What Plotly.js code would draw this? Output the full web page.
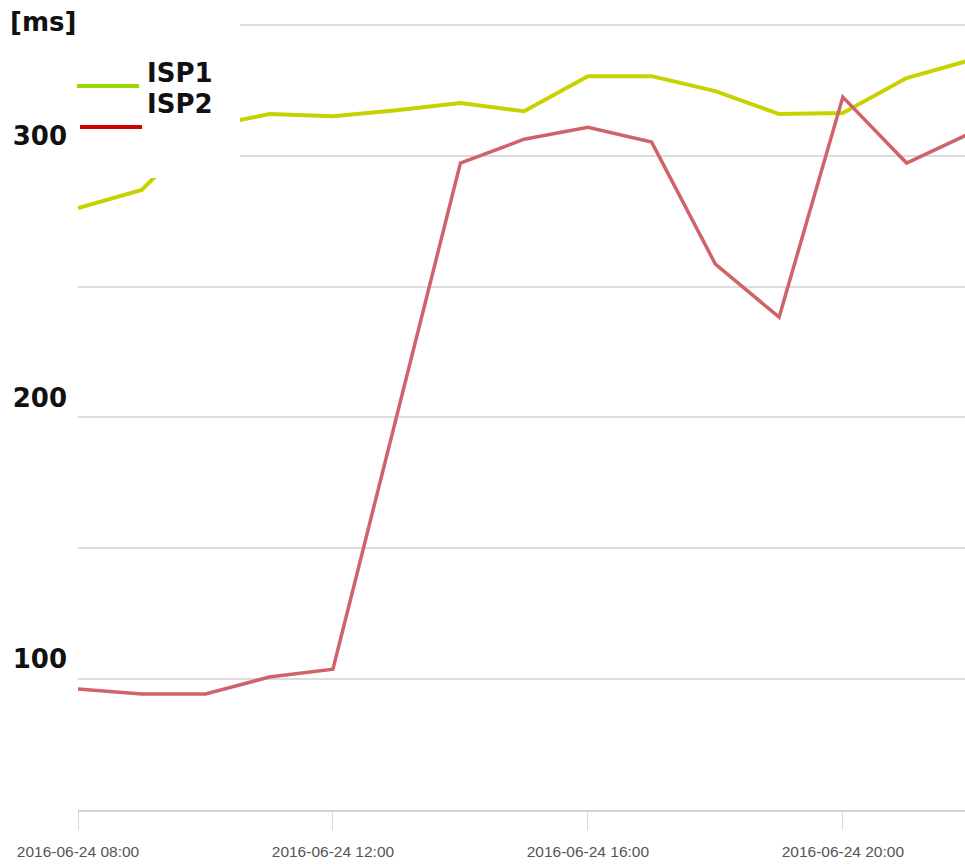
<!DOCTYPE html>
<html>
<head>
<meta charset="utf-8">
<script src="https://cdn.plot.ly/plotly-3.0.1.min.js"></script>
<style>html,body{margin:0;padding:0;background:#fff;}#chart{width:965px;height:867px;}</style>
</head>
<body>
<div id="chart"></div>
<script>
// ---- data ----
const times = ["2016-06-24 08:00","2016-06-24 09:00","2016-06-24 10:00","2016-06-24 11:00","2016-06-24 12:00",
  "2016-06-24 13:00","2016-06-24 14:00","2016-06-24 15:00","2016-06-24 16:00","2016-06-24 17:00",
  "2016-06-24 18:00","2016-06-24 19:00","2016-06-24 20:00","2016-06-24 21:00","2016-06-24 22:00"];
const isp1 = [280, 286.9, 311, 315.9, 315.1, 317.4, 320.1, 317, 330.4, 330.4, 324.7, 315.9, 316.3, 329.7, 336.5];
const isp2 = [96.2, 94.3, 94.3, 100.8, 103.8, 201, 297.2, 306.3, 310.9, 305.2, 258.6, 238.3, 322.4, 297.2, 308.6];
const seriesNames = ["ISP1", "ISP2"];
const yGridVals = [50, 100, 150, 200, 250, 300, 350];
const yTickText = ["", "100", "", "200", "", "300", ""];
const unitLabel = "[ms]";

// ---- layout helpers (pixel -> paper) ----
const W = 965, H = 867, ML = 78, MR = 0, MT = 0, MB = 57;
const PW = W - ML - MR, PH = H - MT - MB;
const px = x => (x - ML) / PW;
const py = y => 1 - (y - MT) / PH;

const lineColors = ["#c8d200", "#d0636a"];
const legendColors = ["#9ad800", "#cc0000"];

const traces = [
  {x: times, y: isp1, name: seriesNames[0], type: "scatter", mode: "lines",
   line: {color: lineColors[0], width: 4}, showlegend: false},
  {x: times, y: isp2, name: seriesNames[1], type: "scatter", mode: "lines",
   line: {color: lineColors[1], width: 3.5}, showlegend: false}
];

const boldFont = {family: "DejaVu Sans, Verdana, sans-serif", size: 26, color: "#111", weight: "bold"};

const layout = {
  width: W, height: H,
  margin: {l: ML, r: MR, t: MT, b: MB, pad: 0},
  paper_bgcolor: "#fff", plot_bgcolor: "#fff",
  showlegend: false,
  xaxis: {
    type: "date",
    range: ["2016-06-24 08:00", "2016-06-24 21:55"],
    dtick: 4 * 3600 * 1000,
    tick0: "2016-06-24 08:00",
    tickformat: "%Y-%m-%d %H:%M",
    showgrid: false, zeroline: false,
    showline: true, linecolor: "#d0d0d0", linewidth: 2,
    ticks: "outside", ticklen: 18, tickcolor: "#d8d8d8", tickwidth: 1,
    tickfont: {family: "Liberation Sans Narrow, Arial Narrow, Liberation Sans, sans-serif", size: 15.5, color: "#555"},
    ticklabelstandoff: 8
  },
  yaxis: {
    range: [50, 359.5],
    tickmode: "array", tickvals: yGridVals, ticktext: yTickText,
    showgrid: true, gridcolor: "#dcdcdc", gridwidth: 2,
    zeroline: false, showline: false, ticks: "",
    tickfont: boldFont,
    ticklabelshift: -20,
    ticklabelstandoff: 10
  },
  shapes: [
    {type: "rect", xref: "paper", yref: "paper", x0: px(78), x1: px(240), y0: py(178), y1: py(-2),
     fillcolor: "#fff", line: {width: 0}, layer: "above"},
    {type: "line", xref: "paper", yref: "paper", x0: px(77), x1: px(139), y0: py(86), y1: py(86),
     line: {color: legendColors[0], width: 4}, layer: "above"},
    {type: "line", xref: "paper", yref: "paper", x0: px(80), x1: px(142), y0: py(127), y1: py(127),
     line: {color: legendColors[1], width: 4}, layer: "above"}
  ],
  annotations: [
    {text: unitLabel, xref: "paper", yref: "paper", x: px(8), y: py(22), xanchor: "left", yanchor: "middle",
     showarrow: false, font: boldFont},
    {text: seriesNames[0], xref: "paper", yref: "paper", x: px(145), y: py(73), xanchor: "left", yanchor: "middle",
     showarrow: false, font: boldFont},
    {text: seriesNames[1], xref: "paper", yref: "paper", x: px(145), y: py(104), xanchor: "left", yanchor: "middle",
     showarrow: false, font: boldFont}
  ]
};

Plotly.newPlot("chart", traces, layout, {displayModeBar: false, staticPlot: true});
</script>
</body>
</html>
